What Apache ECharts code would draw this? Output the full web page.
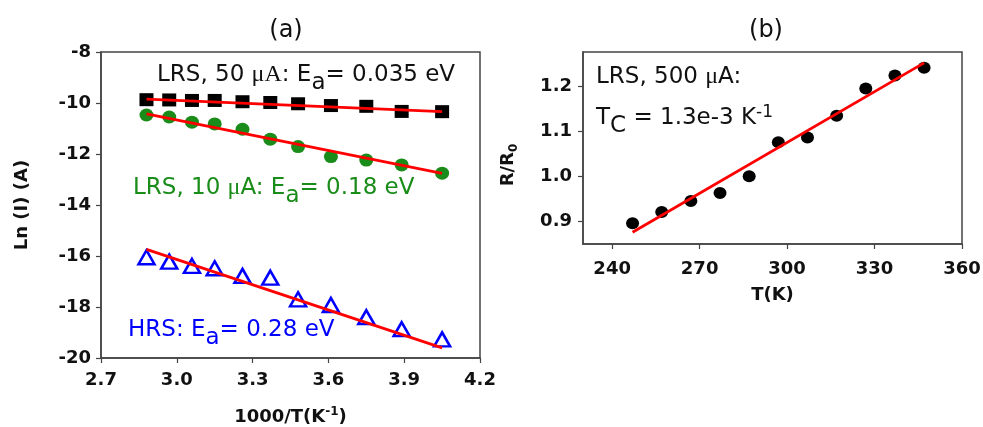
<!DOCTYPE html>
<html>
<head>
<meta charset="utf-8">
<script src="https://cdn.jsdelivr.net/npm/echarts@6/dist/echarts.min.js"></script>
<style>
  html, body { margin: 0; padding: 0; background: #fff; }
  #chart { width: 983px; height: 427px; }
</style>
</head>
<body>
<div id="chart"></div>
<script>
// panel (a): Arrhenius plot
const invT = [2.88, 2.97, 3.06, 3.15, 3.26, 3.37, 3.48, 3.61, 3.75, 3.89, 4.05];
const lnI_lrs50 = [-9.87, -9.88, -9.90, -9.90, -9.95, -9.98, -10.03, -10.10, -10.13, -10.33, -10.34];
const lnI_lrs10 = [-10.47, -10.55, -10.75, -10.82, -11.03, -11.42, -11.71, -12.10, -12.24, -12.43, -12.75];
const lnI_hrs = [-16.05, -16.22, -16.39, -16.48, -16.78, -16.85, -17.70, -17.92, -18.40, -18.87, -19.27];
const fitX = [2.88, 4.05];
const fit_lrs50 = [-9.85, -10.34];
const fit_lrs10 = [-10.43, -12.76];
const fit_hrs = [-15.74, -19.60];
const xTicksA = [2.7, 3.0, 3.3, 3.6, 3.9, 4.2];
const yTicksA = [-20, -18, -16, -14, -12, -10, -8];

// panel (b): R/R0 vs T
const tempK = [247, 257, 267, 277, 287, 297, 307, 317, 327, 337, 347];
const rRatio = [0.896, 0.921, 0.945, 0.963, 1.000, 1.075, 1.086, 1.134, 1.194, 1.223, 1.240];
const fitT = [247, 347];
const fitR = [0.876, 1.251];
const xTicksB = [240, 270, 300, 330, 360];
const yTicksB = [0.9, 1.0, 1.1, 1.2];

const pairs = (xs, ys) => xs.map((x, i) => [x, ys[i]]);

const FONT = 'DejaVu Sans';
const RED = '#ff0000';
const GREEN = '#1a8c1a';
const BLUE = '#0000ff';

const chart = echarts.init(document.getElementById('chart'));

const axisCommon = {
  axisLine: { show: true, lineStyle: { color: '#444', width: 1.5 } },
  axisTick: { show: true, inside: false, length: 5, lineStyle: { color: '#444', width: 1.2 } },
  splitLine: { show: false },
  axisLabel: { color: '#111', fontFamily: FONT, fontWeight: 'bold', fontSize: 18 },
  nameTextStyle: { color: '#111', fontFamily: FONT, fontWeight: 'bold', fontSize: 18 }
};

const subRich = {
  sup: { fontFamily: FONT, fontWeight: 'bold', fontSize: 12, verticalAlign: 'top', padding: [0, 0, 10, 0] }
};

function annText(color) {
  return {
    n: { fontFamily: FONT, fontSize: 23, fill: color },
    mu: { fontFamily: 'Liberation Serif', fontSize: 24, fill: color },
    sub: { fontFamily: FONT, fontSize: 23, fill: color, padding: [16, 0, 0, 0] },
    sup: { fontFamily: FONT, fontSize: 17, fill: color, padding: [0, 0, 12, 0] }
  };
}

const options = {
  animation: false,
  backgroundColor: '#fff',
  grid: [
    { left: 101, top: 52, width: 379, height: 306, outerBoundsMode: 'none', show: true, borderColor: '#444', borderWidth: 1.5 },
    { left: 583, top: 52, width: 379, height: 192, outerBoundsMode: 'none', show: true, borderColor: '#444', borderWidth: 1.5 }
  ],
  xAxis: [
    Object.assign({}, axisCommon, {
      type: 'value', gridIndex: 0, min: 2.7, max: 4.2,
      name: '1000/T(K{sup|-1})', nameLocation: 'middle', nameGap: 48,
      axisLabel: Object.assign({}, axisCommon.axisLabel, { margin: 13, customValues: xTicksA, formatter: v => v.toFixed(1) }),
      axisTick: Object.assign({}, axisCommon.axisTick, { customValues: xTicksA }),
      nameTextStyle: Object.assign({}, axisCommon.nameTextStyle, { rich: subRich })
    }),
    Object.assign({}, axisCommon, {
      type: 'value', gridIndex: 1, min: 230, max: 360,
      name: 'T(K)', nameLocation: 'middle', nameGap: 42,
      axisLabel: Object.assign({}, axisCommon.axisLabel, { margin: 16, customValues: xTicksB }),
      axisTick: Object.assign({}, axisCommon.axisTick, { customValues: xTicksB })
    })
  ],
  yAxis: [
    Object.assign({}, axisCommon, {
      type: 'value', gridIndex: 0, min: -20, max: -8,
      name: 'Ln (I) (A)', nameLocation: 'middle', nameGap: 70,
      axisLabel: Object.assign({}, axisCommon.axisLabel, { margin: 10, customValues: yTicksA }),
      axisTick: Object.assign({}, axisCommon.axisTick, { customValues: yTicksA })
    }),
    Object.assign({}, axisCommon, {
      type: 'value', gridIndex: 1, min: 0.85, max: 1.275,
      axisLabel: Object.assign({}, axisCommon.axisLabel, { margin: 11, customValues: yTicksB, formatter: v => v.toFixed(1) }),
      axisTick: Object.assign({}, axisCommon.axisTick, { customValues: yTicksB })
    })
  ],
  series: [
    {
      type: 'scatter', xAxisIndex: 0, yAxisIndex: 0, data: pairs(invT, lnI_lrs50),
      symbol: 'rect', symbolSize: [14, 13], itemStyle: { color: '#000', opacity: 1 }
    },
    {
      type: 'scatter', xAxisIndex: 0, yAxisIndex: 0, data: pairs(invT, lnI_lrs10),
      symbol: 'circle', symbolSize: [14, 13], itemStyle: { color: GREEN, opacity: 1 }
    },
    {
      type: 'scatter', xAxisIndex: 0, yAxisIndex: 0, data: pairs(invT, lnI_hrs),
      symbol: 'triangle', symbolSize: [16, 14],
      itemStyle: { color: '#fff', borderColor: BLUE, borderWidth: 2.5, opacity: 1 }
    },
    {
      type: 'line', xAxisIndex: 0, yAxisIndex: 0, data: pairs(fitX, fit_lrs50), z: 5,
      symbol: 'none', lineStyle: { color: RED, width: 2.8 }
    },
    {
      type: 'line', xAxisIndex: 0, yAxisIndex: 0, data: pairs(fitX, fit_lrs10), z: 5,
      symbol: 'none', lineStyle: { color: RED, width: 2.8 }
    },
    {
      type: 'line', xAxisIndex: 0, yAxisIndex: 0, data: pairs(fitX, fit_hrs), z: 5,
      symbol: 'none', lineStyle: { color: RED, width: 2.8 }
    },
    {
      type: 'scatter', xAxisIndex: 1, yAxisIndex: 1, data: pairs(tempK, rRatio),
      symbol: 'circle', symbolSize: [13, 12], itemStyle: { color: '#000', opacity: 1 }
    },
    {
      type: 'line', xAxisIndex: 1, yAxisIndex: 1, data: pairs(fitT, fitR), z: 5,
      symbol: 'none', lineStyle: { color: RED, width: 2.8 }
    }
  ],
  graphic: [
    { type: 'text', x: 286, y: 31, style: { text: '(a)', fontFamily: FONT, fontSize: 24, fill: '#111', align: 'center', verticalAlign: 'middle' } },
    { type: 'text', x: 766, y: 31, style: { text: '(b)', fontFamily: FONT, fontSize: 24, fill: '#111', align: 'center', verticalAlign: 'middle' } },
    {
      type: 'text', x: 508, y: 165, rotation: Math.PI / 2,
      style: {
        text: 'R/R{s|0}', align: 'center', verticalAlign: 'middle',
        fontFamily: FONT, fontWeight: 'bold', fontSize: 18, fill: '#111',
        rich: { s: { fontFamily: FONT, fontWeight: 'bold', fontSize: 12, fill: '#111', padding: [12, 0, 0, 0] } }
      }
    },
    {
      type: 'text', left: 157, top: 63,
      style: { text: '{n|LRS, 50 }{mu|μA}{n|: E}{sub|a}{n|= 0.035 eV}', rich: annText('#111') }
    },
    {
      type: 'text', left: 133, top: 176,
      style: { text: '{n|LRS, 10 }{mu|μ}{n|A: E}{sub|a}{n|= 0.18 eV}', rich: annText(GREEN) }
    },
    {
      type: 'text', left: 128, top: 319,
      style: { text: '{n|HRS: E}{sub|a}{n|= 0.28 eV}', rich: annText(BLUE) }
    },
    {
      type: 'text', left: 596, top: 65,
      style: { text: '{n|LRS, 500 }{mu|μ}{n|A:}', rich: annText('#111') }
    },
    {
      type: 'text', left: 596, top: 104,
      style: { text: '{n|T}{sub|C}{n| = 1.3e-3 K}{sup|-1}', rich: annText('#111') }
    }
  ]
};

chart.setOption(options);
window.addEventListener('resize', () => chart.resize());
</script>
</body>
</html>
